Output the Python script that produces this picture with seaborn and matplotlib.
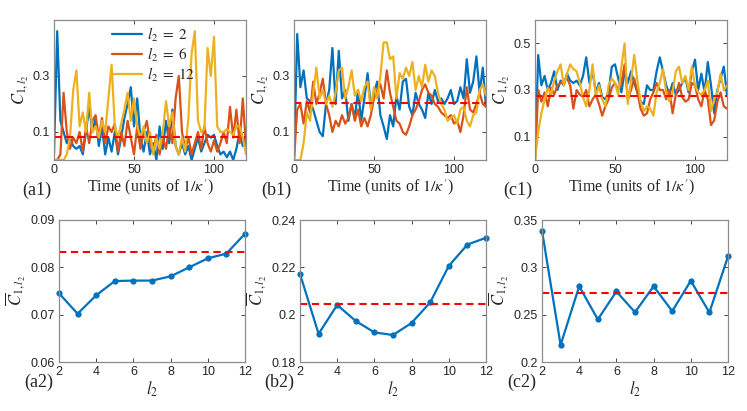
import matplotlib

matplotlib.use("Agg")
import matplotlib.pyplot as plt
import numpy as np
import seaborn as sns
from matplotlib.ticker import FuncFormatter

# time grid of the top row (units of 1/kappa')
time = np.arange(0, 121, 2)

# (a1)
a1_l2_2 = [0.02, 0.46, 0.14, 0.10, 0.06, 0.08, 0.05, 0.04, 0.05, 0.02, 0.10, 0.19, 0.10, 0.15, 0.05, 0.12,
           0.02, 0.08, 0.03, 0.10, 0.02, 0.08, 0.15, 0.20, 0.26, 0.12, 0.22, 0.08, 0.03, 0.10, 0.02, 0.06,
           0.00, 0.12, 0.04, 0.14, 0.06, 0.18, 0.05, 0.02, 0.06, 0.02, 0.05, 0.00, 0.04, 0.08, 0.03, 0.06,
           0.09, 0.08, 0.09, 0.05, 0.02, 0.03, 0.01, 0.03, 0.00, 0.04, 0.10, 0.05, 0.09]
a1_l2_6 = [0.00, 0.00, 0.02, 0.24, 0.10, 0.04, 0.08, 0.06, 0.10, 0.03, 0.12, 0.06, 0.14, 0.16, 0.08, 0.15,
           0.06, 0.12, 0.10, 0.13, 0.03, 0.10, 0.05, 0.14, 0.08, 0.02, 0.12, 0.04, 0.10, 0.14, 0.06, 0.03,
           0.09, 0.02, 0.08, 0.04, 0.12, 0.06, 0.22, 0.30, 0.10, 0.04, 0.08, 0.02, 0.06, 0.10, 0.04, 0.12,
           0.06, 0.03, 0.07, 0.03, 0.06, 0.10, 0.06, 0.19, 0.08, 0.18, 0.06, 0.22, 0.05]
a1_l2_12 = [0.00, 0.00, 0.00, 0.00, 0.02, 0.08, 0.25, 0.32, 0.12, 0.17, 0.10, 0.24, 0.10, 0.12, 0.08, 0.14,
            0.10, 0.22, 0.34, 0.12, 0.08, 0.13, 0.18, 0.24, 0.14, 0.22, 0.12, 0.08, 0.12, 0.06, 0.10, 0.02,
            0.08, 0.04, 0.10, 0.21, 0.12, 0.17, 0.05, 0.02, 0.08, 0.03, 0.15, 0.38, 0.46, 0.14, 0.10, 0.11,
            0.40, 0.30, 0.44, 0.12, 0.10, 0.10, 0.11, 0.10, 0.09, 0.12, 0.12, 0.08, 0.02]

# (b1)
b1_l2_2 = [0.00, 0.45, 0.26, 0.32, 0.22, 0.21, 0.18, 0.14, 0.10, 0.085, 0.20, 0.25, 0.40, 0.20, 0.39, 0.22,
           0.25, 0.14, 0.20, 0.15, 0.25, 0.14, 0.22, 0.31, 0.19, 0.24, 0.28, 0.16, 0.12, 0.075, 0.16, 0.12,
           0.23, 0.18, 0.28, 0.29, 0.19, 0.16, 0.24, 0.20, 0.18, 0.15, 0.24, 0.20, 0.25, 0.21, 0.22, 0.20,
           0.22, 0.25, 0.20, 0.21, 0.26, 0.22, 0.36, 0.24, 0.28, 0.37, 0.24, 0.33, 0.19]
b1_l2_6 = [0.00, 0.18, 0.20, 0.13, 0.21, 0.17, 0.28, 0.20, 0.24, 0.29, 0.20, 0.16, 0.10, 0.14, 0.12, 0.16,
           0.13, 0.15, 0.20, 0.14, 0.18, 0.12, 0.15, 0.12, 0.16, 0.22, 0.25, 0.27, 0.22, 0.32, 0.24, 0.19,
           0.14, 0.13, 0.10, 0.09, 0.12, 0.16, 0.18, 0.21, 0.25, 0.27, 0.24, 0.23, 0.20, 0.19, 0.17, 0.16,
           0.15, 0.16, 0.13, 0.14, 0.10, 0.16, 0.26, 0.18, 0.17, 0.20, 0.24, 0.20, 0.19]
b1_l2_12 = [0.00, 0.00, 0.00, 0.06, 0.17, 0.14, 0.24, 0.33, 0.22, 0.25, 0.20, 0.23, 0.19, 0.24, 0.32, 0.33,
            0.22, 0.26, 0.32, 0.23, 0.25, 0.21, 0.26, 0.28, 0.18, 0.26, 0.22, 0.30, 0.42, 0.42, 0.36, 0.37,
            0.22, 0.31, 0.29, 0.33, 0.30, 0.35, 0.25, 0.30, 0.26, 0.34, 0.28, 0.32, 0.30, 0.24, 0.20, 0.18,
            0.14, 0.15, 0.16, 0.13, 0.18, 0.19, 0.14, 0.12, 0.16, 0.17, 0.25, 0.27, 0.23]

# (c1)
c1_l2_2 = [0.00, 0.45, 0.32, 0.36, 0.30, 0.33, 0.38, 0.30, 0.34, 0.32, 0.37, 0.34, 0.33, 0.34, 0.32, 0.36,
           0.44, 0.33, 0.38, 0.29, 0.33, 0.27, 0.26, 0.29, 0.40, 0.41, 0.35, 0.29, 0.38, 0.33, 0.38, 0.33,
           0.29, 0.25, 0.24, 0.32, 0.30, 0.30, 0.38, 0.44, 0.38, 0.32, 0.28, 0.33, 0.28, 0.30, 0.33, 0.35,
           0.29, 0.38, 0.43, 0.30, 0.37, 0.29, 0.42, 0.32, 0.20, 0.30, 0.35, 0.40, 0.28]
c1_l2_6 = [0.00, 0.30, 0.25, 0.29, 0.23, 0.31, 0.28, 0.32, 0.33, 0.34, 0.35, 0.32, 0.22, 0.30, 0.28, 0.27,
           0.30, 0.23, 0.26, 0.28, 0.24, 0.19, 0.23, 0.26, 0.31, 0.33, 0.30, 0.33, 0.41, 0.26, 0.30, 0.35,
           0.29, 0.22, 0.19, 0.20, 0.26, 0.29, 0.33, 0.30, 0.30, 0.26, 0.30, 0.20, 0.28, 0.33, 0.27, 0.25,
           0.26, 0.33, 0.32, 0.26, 0.23, 0.30, 0.26, 0.15, 0.17, 0.25, 0.29, 0.23, 0.22]
c1_l2_12 = [0.00, 0.12, 0.20, 0.26, 0.31, 0.28, 0.34, 0.38, 0.41, 0.32, 0.37, 0.41, 0.39, 0.38, 0.33, 0.27,
            0.23, 0.30, 0.41, 0.27, 0.32, 0.26, 0.23, 0.32, 0.35, 0.33, 0.28, 0.40, 0.50, 0.24, 0.34, 0.45,
            0.34, 0.25, 0.21, 0.23, 0.22, 0.19, 0.29, 0.33, 0.39, 0.29, 0.25, 0.29, 0.38, 0.40, 0.33, 0.36,
            0.30, 0.40, 0.32, 0.29, 0.28, 0.30, 0.34, 0.21, 0.26, 0.29, 0.37, 0.30, 0.32]

# bottom row: time-averaged correlation versus l2
l2_values = [2, 3, 4, 5, 6, 7, 8, 9, 10, 11, 12]
a2_mean = [0.0745, 0.0702, 0.0741, 0.0771, 0.0772, 0.0772, 0.0781, 0.0800, 0.0819, 0.0829, 0.0871]
b2_mean = [0.2172, 0.1919, 0.2041, 0.1973, 0.1925, 0.1914, 0.1965, 0.2052, 0.2206, 0.2296, 0.2325]
c2_mean = [0.3387, 0.2180, 0.2800, 0.2450, 0.2745, 0.2526, 0.2800, 0.2537, 0.2858, 0.2523, 0.3115]
overall_mean = [0.0833, 0.2043, 0.2727]

series_labels = ["$l_2 \\;=\\; 2$", "$l_2 \\;=\\; 6$", "$l_2 \\;=\\; 12$"]
colors = ["#0072BD", "#D95319", "#EDB120"]
panel_names = ["a", "b", "c"]

sns.set_style("ticks")
plt.rcParams["font.family"] = ["Liberation Sans", "DejaVu Sans"]
plt.rcParams["mathtext.fontset"] = "stix"

fig = plt.figure(figsize=(7.47, 4.11), dpi=100)
top_lefts = [54, 294, 535]
bottom_lefts = [59, 300, 542]
W, H = 747, 411

tick_fmt = FuncFormatter(lambda v, _: f"{v:g}")
serif = ["Liberation Serif", "DejaVu Serif"]


def style_axes(ax):
    for spine in ax.spines.values():
        spine.set_visible(True)
        spine.set_color("#8c8c8c")
        spine.set_linewidth(0.9)
    ax.tick_params(direction="in", top=True, right=True, length=3, width=0.6,
                   color="#262626", labelsize=9, labelcolor="#262626", pad=3)


top_data = [
    (a1_l2_2, a1_l2_6, a1_l2_12),
    (b1_l2_2, b1_l2_6, b1_l2_12),
    (c1_l2_2, c1_l2_6, c1_l2_12),
]
top_ylims = [(0, 0.5), (0, 0.5), (0, 0.6)]
top_yticks = [[0.1, 0.3], [0.1, 0.3], [0.1, 0.3, 0.5]]

for i, series in enumerate(top_data):
    ax = fig.add_axes([top_lefts[i] / W, (H - 160) / H, 192 / W, 140 / H])
    for values, label, color in zip(series, series_labels, colors):
        sns.lineplot(x=time, y=values, ax=ax, color=color, linewidth=1.6, label=label)
    ax.axhline(overall_mean[i], color="red", linestyle=(0, (3.5, 2.2)), linewidth=1.5)
    ax.set_xlim(0, 120)
    ax.set_ylim(*top_ylims[i])
    ax.set_xticks([0, 50, 100])
    ax.set_yticks(top_yticks[i])
    ax.yaxis.set_major_formatter(tick_fmt)
    style_axes(ax)
    ax.set_xlabel("Time (units of $1/\\kappa^{\\prime}$)", fontsize=11.5, family=serif, labelpad=1)
    ax.set_ylabel("$C_{1,l_2}$", fontsize=12, labelpad=2)
    if i == 0:
        ax.legend(loc="upper left", bbox_to_anchor=(0.3, 0.96), frameon=False, fontsize=11,
                  handlelength=2.0, handletextpad=0.3, labelspacing=0.12, borderpad=0, borderaxespad=0)
    else:
        ax.get_legend().remove()
    ax.text(-0.09, -0.215, f"({panel_names[i]}1)", transform=ax.transAxes, fontsize=13,
            family=serif, ha="center", va="center")

bottom_data = [a2_mean, b2_mean, c2_mean]
bottom_ylims = [(0.06, 0.09), (0.18, 0.24), (0.2, 0.35)]
bottom_yticks = [[0.06, 0.07, 0.08, 0.09], [0.18, 0.2, 0.22, 0.24], [0.2, 0.25, 0.3, 0.35]]

for i, values in enumerate(bottom_data):
    ax = fig.add_axes([bottom_lefts[i] / W, (H - 362) / H, 186 / W, 142 / H])
    sns.lineplot(x=l2_values, y=values, ax=ax, color=colors[0], linewidth=1.6,
                 marker="o", markersize=4.5, markeredgewidth=0, clip_on=False)
    ax.axhline(overall_mean[i], color="red", linestyle=(0, (3.5, 2.2)), linewidth=1.5)
    ax.set_xlim(2, 12)
    ax.set_ylim(*bottom_ylims[i])
    ax.set_xticks(range(2, 13, 2))
    ax.set_yticks(bottom_yticks[i])
    ax.yaxis.set_major_formatter(tick_fmt)
    style_axes(ax)
    ax.set_xlabel("$l_2$", fontsize=12, labelpad=1)
    ax.set_ylabel("$\\overline{C}_{1,l_2}$", fontsize=12, labelpad=2)
    ax.text(-0.11, -0.14, f"({panel_names[i]}2)", transform=ax.transAxes, fontsize=13,
            family=serif, ha="center", va="center")

fig.savefig("out.png", dpi=100)
